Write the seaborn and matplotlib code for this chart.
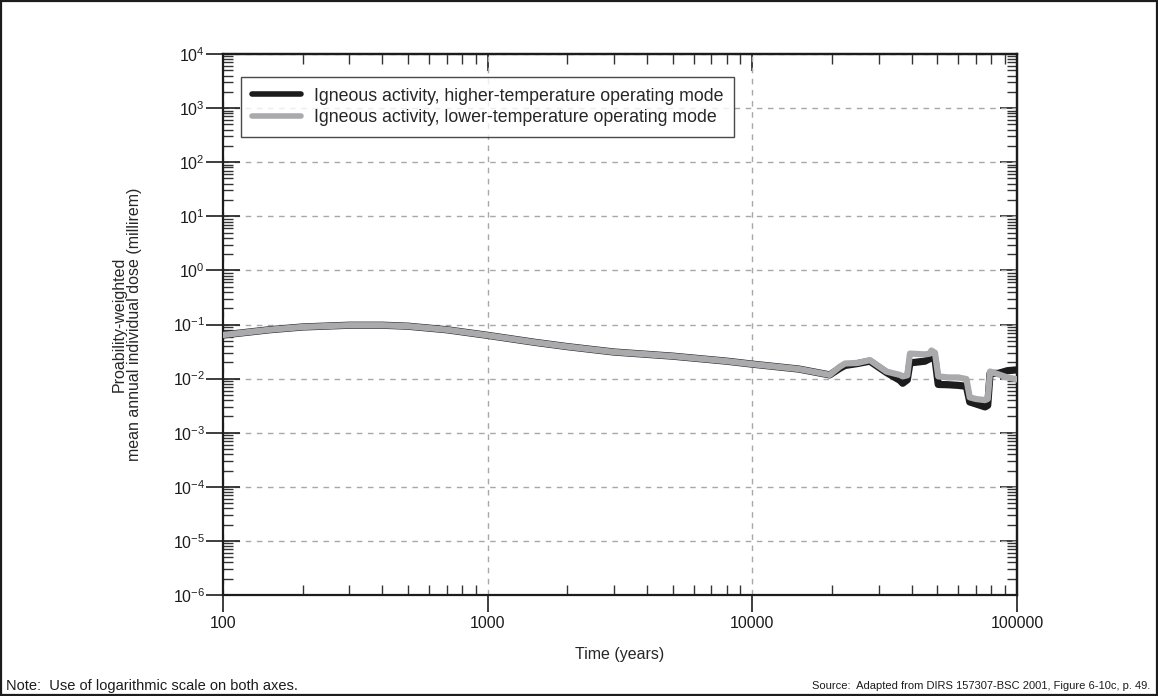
import matplotlib
matplotlib.use("Agg")
import matplotlib.pyplot as plt
import matplotlib.ticker as mticker
from matplotlib.patches import Rectangle
import numpy as np
import pandas as pd
import seaborn as sns

# ---- data ----
time_years = [100, 150, 200, 300, 400, 500, 700, 1000, 1500, 2000, 3000, 5000,
              8000, 10000, 15000, 19600, 21400, 22400, 25000, 27800, 32100,
              36100, 37000, 38500, 39400, 44900, 46900, 47500, 49000, 50400,
              55000, 60000, 64400, 66300, 70000, 75700, 77500, 79100, 85000,
              92000, 100000]
dose_higher = [0.064, 0.080, 0.090, 0.097, 0.097, 0.093, 0.080, 0.063, 0.047,
               0.039, 0.031, 0.026, 0.021, 0.0185, 0.015, 0.0117, 0.0155,
               0.0175, 0.019, 0.021, 0.013, 0.0093, 0.0082, 0.0095, 0.0195,
               0.021, 0.0235, 0.025, 0.023, 0.0078, 0.0077, 0.0075, 0.0072,
               0.0037, 0.0034, 0.0030, 0.0032, 0.0125, 0.0125, 0.014, 0.0145]
dose_lower = [0.064, 0.080, 0.090, 0.097, 0.097, 0.093, 0.080, 0.063, 0.047,
              0.039, 0.031, 0.026, 0.021, 0.0185, 0.015, 0.0117, 0.0166,
              0.019, 0.0195, 0.022, 0.0135, 0.0117, 0.011, 0.0115, 0.029,
              0.028, 0.029, 0.033, 0.030, 0.011, 0.0105, 0.0105, 0.0098,
              0.0045, 0.0042, 0.0040, 0.0042, 0.0135, 0.012, 0.0105, 0.0097]
series_names = ["Igneous activity, higher-temperature operating mode",
                "Igneous activity, lower-temperature operating mode"]
x_ticks = [100, 1000, 10000, 100000]
x_tick_labels = ["100", "1000", "10000", "100000"]
y_ticks = [1e-6, 1e-5, 1e-4, 1e-3, 1e-2, 1e-1, 1e0, 1e1, 1e2, 1e3, 1e4]

df = pd.DataFrame({
    "time": time_years * 2,
    "dose": dose_higher + dose_lower,
    "series": [series_names[0]] * len(time_years) + [series_names[1]] * len(time_years),
})

sns.set_theme(style="ticks")
plt.rcParams["font.family"] = ["Liberation Sans", "DejaVu Sans"]
plt.rcParams["mathtext.default"] = "regular"

BLACK = "#1c1c1c"
GRAY = "#aaaaad"

fig = plt.figure(figsize=(11.58, 6.96), dpi=100)
ax = fig.add_axes([223 / 1158, 1 - 595 / 696, (1017 - 223) / 1158, (595 - 54) / 696])

sns.lineplot(data=df, x="time", y="dose", hue="series",
             palette={series_names[0]: BLACK, series_names[1]: GRAY},
             ax=ax, estimator=None, sort=False, linewidth=4.5)
lines = ax.get_lines()
if len(lines) >= 2:
    lines[0].set_linewidth(5.2)
    lines[0].set_zorder(2)
    lines[1].set_linewidth(4.5)
    lines[1].set_zorder(3)

ax.set_xscale("log")
ax.set_yscale("log")
ax.set_xlim(100, 100000)
ax.set_ylim(1e-6, 1e4)

minor_loc = lambda: mticker.LogLocator(base=10, subs=np.arange(2, 10), numticks=20)

ax.set_xticks(x_ticks)
ax.set_xticklabels(x_tick_labels)
ax.xaxis.set_minor_locator(minor_loc())
ax.xaxis.set_minor_formatter(mticker.NullFormatter())
ax.set_yticks(y_ticks)
ax.yaxis.set_major_formatter(mticker.LogFormatterSciNotation())
ax.yaxis.set_minor_locator(minor_loc())
ax.yaxis.set_minor_formatter(mticker.NullFormatter())

ax.tick_params(top=False, right=False, which="both")
ax.tick_params(axis="x", which="major", direction="out", length=12, width=1.2,
               colors=BLACK, labelsize=11.5, pad=3)
ax.tick_params(axis="y", which="major", direction="inout", length=24, width=1.2,
               colors=BLACK, labelsize=11.5, pad=1)
ax.tick_params(axis="both", which="minor", direction="in", length=7, width=1.0,
               color="#333333")

# top and right axes: inward ticks, no labels
secx = ax.secondary_xaxis("top")
secx.set_xticks(x_ticks)
secx.xaxis.set_major_formatter(mticker.NullFormatter())
secx.xaxis.set_minor_locator(minor_loc())
secx.xaxis.set_minor_formatter(mticker.NullFormatter())
secx.tick_params(axis="x", which="major", direction="in", length=12, width=1.2, color=BLACK)
secx.tick_params(axis="x", which="minor", direction="in", length=7, width=1.0, color="#333333")

secy = ax.secondary_yaxis("right")
secy.set_yticks(y_ticks)
secy.yaxis.set_major_formatter(mticker.NullFormatter())
secy.yaxis.set_minor_locator(minor_loc())
secy.yaxis.set_minor_formatter(mticker.NullFormatter())
secy.tick_params(axis="y", which="major", direction="in", length=12, width=1.2, color=BLACK)
secy.tick_params(axis="y", which="minor", direction="in", length=7, width=1.0, color="#333333")

for a in (ax, secx, secy):
    for sp in a.spines.values():
        sp.set_linewidth(1.6)
        sp.set_color(BLACK)

ax.grid(True, which="major", linestyle=(0, (4, 4)), color="#a8a8a8", linewidth=1.0)
ax.set_axisbelow(True)

ax.set_xlabel("Time (years)", fontsize=11.5, labelpad=12)
ax.set_ylabel("Proability-weighted\nmean annual individual dose (millirem)",
              fontsize=11.5, labelpad=22, linespacing=1.05)

leg = ax.legend(loc="upper left", bbox_to_anchor=(0.0225, 0.9575), frameon=True,
                fancybox=False, edgecolor=BLACK, fontsize=12.8,
                handlelength=2.8, borderpad=0.6, labelspacing=0.25,
                handletextpad=0.7, borderaxespad=0)
leg.get_frame().set_linewidth(1.0)
for h in leg.get_lines():
    h.set_linewidth(4.0)
leg.set_title(None)

fig.text(6 / 1158, 1 - 686 / 696, "Note:  Use of logarithmic scale on both axes.",
         fontsize=10.5, ha="left", va="center", color=BLACK)
fig.text(1150 / 1158, 1 - 686 / 696,
         "Source:  Adapted from DIRS 157307-BSC 2001, Figure 6-10c, p. 49.",
         fontsize=8, ha="right", va="center", color=BLACK)

fig.patches.append(Rectangle((0.001, 0.001), 0.998, 0.998, transform=fig.transFigure,
                             fill=False, edgecolor=BLACK, linewidth=1.6))

fig.savefig("out.png", dpi=100)
